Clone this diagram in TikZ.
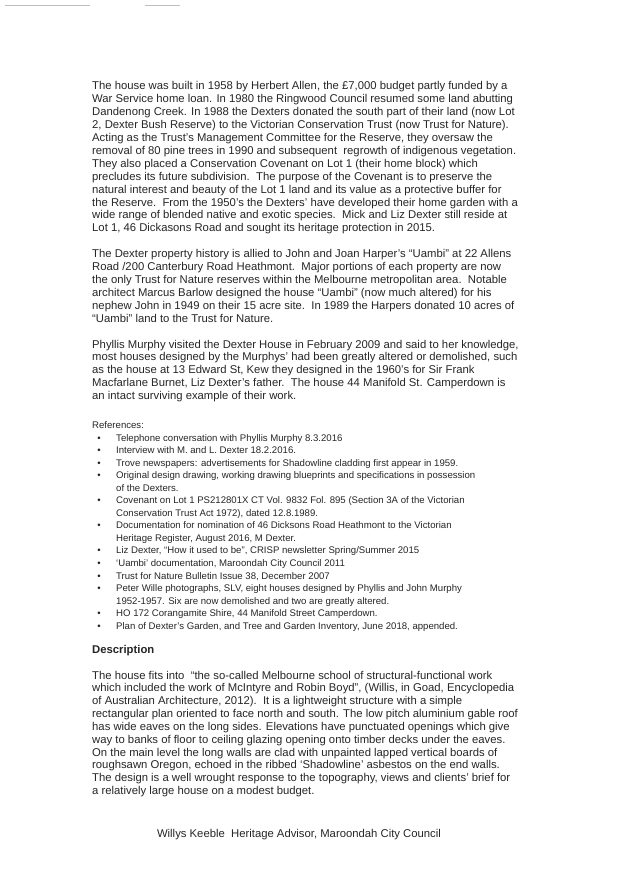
\documentclass[tikz,border=0pt]{standalone}
\usepackage{fontspec}
\setmainfont{Liberation Sans}
\begin{document}
\begin{tikzpicture}[x=1pt,y=-1pt,
  txt/.style={anchor=base west,inner sep=0pt,font=\fontsize{11.3}{13}\selectfont,text=black!85},
  reftxt/.style={anchor=base west,inner sep=0pt,font=\fontsize{9.6}{11}\selectfont,text=black!85},
  bul/.style={anchor=base,inner sep=0pt,font=\fontsize{9.6}{11}\selectfont,text=black!85},
  faint/.style={draw=black!25,line width=0.8pt}]
\fill[white] (0,0) rectangle (618,874);
\useasboundingbox (0,0) rectangle (618,874);
\coordinate (l1a) at (5,5); \coordinate (l1b) at (90,5);
\coordinate (l2a) at (145,5); \coordinate (l2b) at (180,5);
\draw[faint] (l1a) -- (l1b);
\draw[faint] (l2a) -- (l2b);
% paragraph 1
\foreach \t [count=\i from 0] in {
 {The house was built in 1958 by Herbert Allen, the £7,000 budget partly funded by a},
 {War Service home loan. In 1980 the Ringwood Council resumed some land abutting},
 {Dandenong Creek. In 1988 the Dexters donated the south part of their land (now Lot},
 {2, Dexter Bush Reserve) to the Victorian Conservation Trust (now Trust for Nature).},
 {Acting as the Trust’s Management Committee for the Reserve, they oversaw the},
 {removal of 80 pine trees in 1990 and subsequent\ \ regrowth of indigenous vegetation.},
 {They also placed a Conservation Covenant on Lot 1 (their home block) which},
 {precludes its future subdivision.\ \ The purpose of the Covenant is to preserve the},
 {natural interest and beauty of the Lot 1 land and its value as a protective buffer for},
 {the Reserve.\ \ From the 1950’s the Dexters’ have developed their home garden with a},
 {wide range of blended native and exotic species.\ \ Mick and Liz Dexter still reside at},
 {Lot 1, 46 Dickasons Road and sought its heritage protection in 2015.}}
 \node[txt] (pa\i) at (92,90+12.9*\i) {\t};
% paragraph 2
\foreach \t [count=\i from 0] in {
 {The Dexter property history is allied to John and Joan Harper’s “Uambi” at 22 Allens},
 {Road /200 Canterbury Road Heathmont.\ \ Major portions of each property are now},
 {the only Trust for Nature reserves within the Melbourne metropolitan area.\ \ Notable},
 {architect Marcus Barlow designed the house “Uambi” (now much altered) for his},
 {nephew John in 1949 on their 15 acre site.\ \ In 1989 the Harpers donated 10 acres of},
 {“Uambi” land to the Trust for Nature.}}
 \node[txt] (pb\i) at (92,257.7+12.9*\i) {\t};
% paragraph 3
\foreach \t [count=\i from 0] in {
 {Phyllis Murphy visited the Dexter House in February 2009 and said to her knowledge,},
 {most houses designed by the Murphys’ had been greatly altered or demolished, such},
 {as the house at 13 Edward St, Kew they designed in the 1960’s for Sir Frank},
 {Macfarlane Burnet, Liz Dexter’s father.\ \ The house 44 Manifold St. Camperdown is},
 {an intact surviving example of their work.}}
 \node[txt] (pc\i) at (92,348+12.9*\i) {\t};
\node[reftxt] (refs) at (92,428) {References:};
% references: flag 0 = bullet line, 1 = continuation
\foreach \b/\t [count=\i from 0] in {
 0/{Telephone conversation with Phyllis Murphy 8.3.2016},
 0/{Interview with M. and L. Dexter 18.2.2016.},
 0/{Trove newspapers: advertisements for Shadowline cladding first appear in 1959.},
 0/{Original design drawing, working drawing blueprints and specifications in possession},
 1/{of the Dexters.},
 0/{Covenant on Lot 1 PS212801X CT Vol. 9832 Fol. 895 (Section 3A of the Victorian},
 1/{Conservation Trust Act 1972), dated 12.8.1989.},
 0/{Documentation for nomination of 46 Dicksons Road Heathmont to the Victorian},
 1/{Heritage Register, August 2016, M Dexter.},
 0/{Liz Dexter, “How it used to be”, CRISP newsletter Spring/Summer 2015},
 0/{‘Uambi’ documentation, Maroondah City Council 2011},
 0/{Trust for Nature Bulletin Issue 38, December 2007},
 0/{Peter Wille photographs, SLV, eight houses designed by Phyllis and John Murphy},
 1/{1952-1957. Six are now demolished and two are greatly altered.},
 0/{HO 172 Corangamite Shire, 44 Manifold Street Camperdown.},
 0/{Plan of Dexter’s Garden, and Tree and Garden Inventory, June 2018, appended.}}
 {
 \node[reftxt] (r\i) at (116,441+12.55*\i) {\t};
 \ifnum\b=0 \node[bul] (rb\i) at (99,441+12.55*\i) {\textbullet};\fi
 }
\node[txt,font=\fontsize{11.3}{13}\selectfont\bfseries] (desc) at (92,653) {Description};
\foreach \t [count=\i from 0] in {
 {The house fits into\ \ “the so-called Melbourne school of structural-functional work},
 {which included the work of McIntyre and Robin Boyd”, (Willis, in Goad, Encyclopedia},
 {of Australian Architecture, 2012).\ \ It is a lightweight structure with a simple},
 {rectangular plan oriented to face north and south. The low pitch aluminium gable roof},
 {has wide eaves on the long sides. Elevations have punctuated openings which give},
 {way to banks of floor to ceiling glazing opening onto timber decks under the eaves.},
 {On the main level the long walls are clad with unpainted lapped vertical boards of},
 {roughsawn Oregon, echoed in the ribbed ‘Shadowline’ asbestos on the end walls.},
 {The design is a well wrought response to the topography, views and clients’ brief for},
 {a relatively large house on a modest budget.}}
 \node[txt] (pd\i) at (92,679+12.85*\i) {\t};
\node[txt,anchor=base] (sig) at (299,837) {Willys Keeble\ \ Heritage Advisor, Maroondah City Council};
\end{tikzpicture}
\end{document}
